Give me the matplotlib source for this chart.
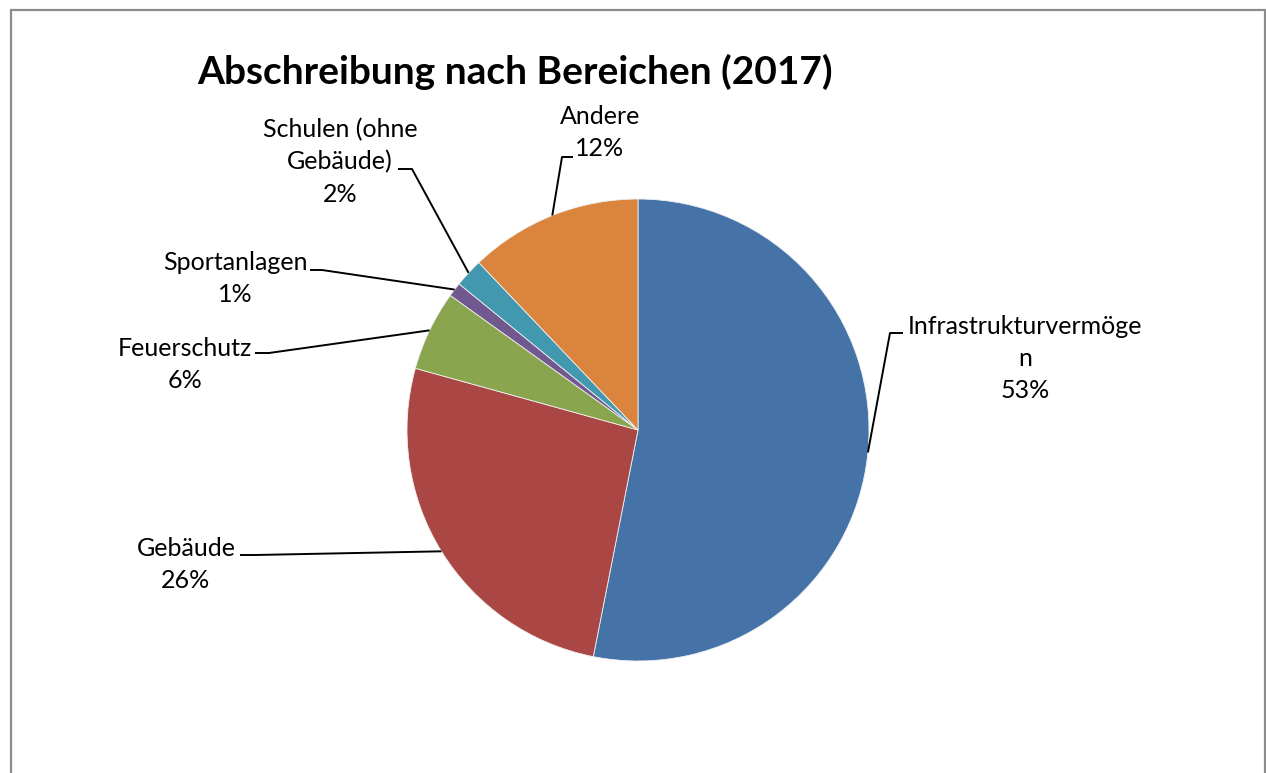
import matplotlib
matplotlib.use("Agg")
import matplotlib.pyplot as plt
from matplotlib.patches import Rectangle
import numpy as np

# ---- data ----
categories = ["Infrastrukturvermöge\nn", "Gebäude", "Feuerschutz", "Sportanlagen",
              "Schulen (ohne\nGebäude)", "Andere"]
values = [53.1, 26.2, 5.6, 1.0, 2.0, 12.1]
colors = ["#4572A7", "#AA4643", "#89A54E", "#71588F", "#4198AF", "#DB843D"]
title = "Abschreibung nach Bereichen (2017)"

W, H = 1266, 773
fig = plt.figure(figsize=(W / 100, H / 100), dpi=100)
ax = fig.add_axes([0, 0, 1, 1])
ax.set_xlim(0, W)
ax.set_ylim(0, H)
ax.set_aspect("equal")
ax.axis("off")

def Y(y):
    return H - y

font = "Lato"
cx, cy, r = 638, Y(430), 231

wedges, _ = ax.pie(values, colors=colors, startangle=90, counterclock=False,
                   center=(cx, cy), radius=r, frame=True,
                   wedgeprops=dict(edgecolor="#f0f0f0", linewidth=0.6))
ax.set_xlim(0, W)
ax.set_ylim(0, H)
ax.axis("off")

# border
ax.add_patch(Rectangle((11, Y(800)), 1254, 790, fill=False, edgecolor="#8c8c8c",
                       linewidth=1.6, clip_on=False))

# title
ax.text(515, Y(72), title, ha="center", va="center", fontsize=28,
        fontweight="bold", family=font, color="black")

total = sum(values)
# layout: text centre x, first line y, elbow point, horizontal end point
layout = [
    (1025, 326, (890, 333), (903, 333)),
    (186, 548, (255, 555), (240, 555)),
    (185, 348, (269, 353), (255, 353)),
    (235, 263, (322, 270), (310, 270)),
    (340, 130, (412, 169), (398, 169)),
    (600, 116, (562, 157), (573, 157)),
]
LS = 32
for w, cat, v, (tx, ty, elb, hend) in zip(wedges, categories, values, layout):
    lines = cat.split("\n") + [f"{round(v / total * 100)}%"]
    for i, ln in enumerate(lines):
        ax.text(tx, Y(ty + i * LS), ln, ha="center", va="center", fontsize=18,
                family=font, color="black")
    mid = np.deg2rad((w.theta1 + w.theta2) / 2)
    px, py = cx + r * np.cos(mid), cy + r * np.sin(mid)
    ax.plot([px, elb[0], hend[0]], [py, Y(elb[1]), Y(hend[1])], color="black",
            linewidth=1.4, solid_capstyle="butt")

fig.savefig("out.png", dpi=100)
